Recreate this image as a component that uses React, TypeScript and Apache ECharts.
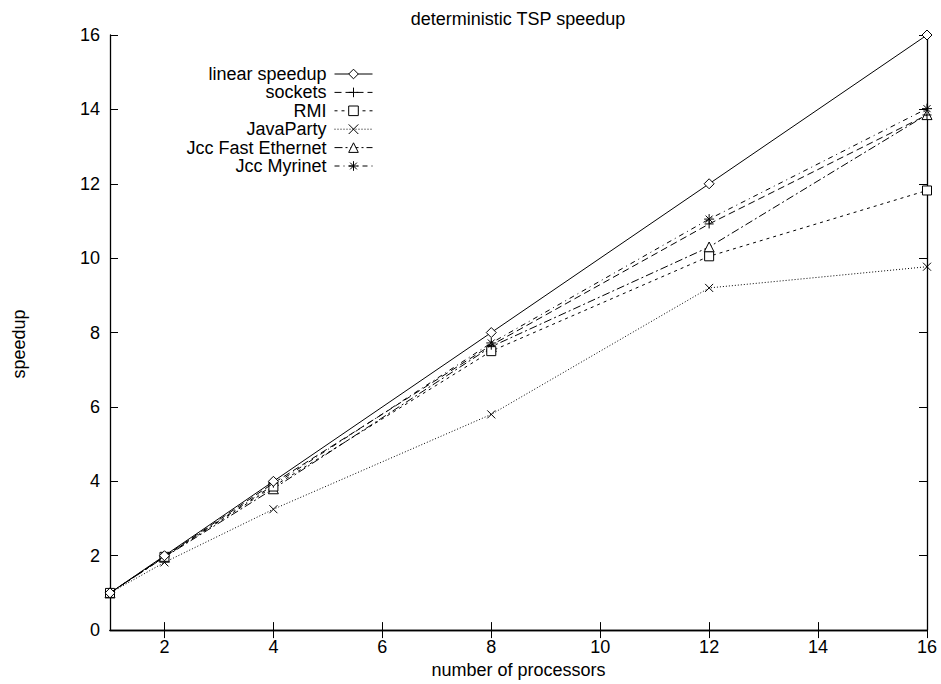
import React, { useEffect, useRef } from "react";
import * as echarts from "echarts";

const procs = [1, 2, 4, 8, 12, 16];
const xTicks = [2, 4, 6, 8, 10, 12, 14, 16];
const linearSpeedup = [1, 2, 4, 8, 12, 16];
const sockets = [1, 1.98, 3.95, 7.66, 10.92, 13.85];
const rmi = [1, 1.97, 3.86, 7.5, 10.05, 11.82];
const javaParty = [1, 1.82, 3.25, 5.8, 9.2, 9.77];
const jccFastEthernet = [1, 1.96, 3.8, 7.62, 10.3, 13.86];
const jccMyrinet = [1, 1.97, 3.9, 7.72, 11.05, 14.02];

const names = ["linear speedup", "sockets", "RMI", "JavaParty", "Jcc Fast Ethernet", "Jcc Myrinet"];
const values = [linearSpeedup, sockets, rmi, javaParty, jccFastEthernet, jccMyrinet];

const PLUS = "path://M0,5L10,5M5,0L5,10";
const CROSS = "path://M0,0L10,10M10,0L0,10";
const STAR = "path://M0,5L10,5M5,0L5,10M1.5,1.5L8.5,8.5M8.5,1.5L1.5,8.5";

const styles = [
  { dash: "solid" as any, symbol: "diamond", size: 10, filled: true },
  { dash: [7, 4], symbol: PLUS, size: 9, filled: false },
  { dash: [3, 4], symbol: "rect", size: 9, filled: true },
  { dash: [1, 2], symbol: CROSS, size: 8, filled: false },
  { dash: [8, 3, 2, 3], symbol: "triangle", size: 10, filled: true },
  { dash: [5, 4, 1, 4], symbol: STAR, size: 10, filled: false },
];

const FONT = "Liberation Sans, Arial, Helvetica, sans-serif";
const FS = 18;

export default function App() {
  const ref = useRef<HTMLDivElement>(null);
  useEffect(() => {
    if (!ref.current) return;
    const chart = echarts.init(ref.current, undefined, { renderer: "svg" });
    const axisLine = { lineStyle: { color: "#000", width: 1.3 } };
    const tick = { inside: true, length: 8, lineStyle: { color: "#000", width: 1 } };
    const series = names.map((name, i) => ({
      name,
      type: "line",
      data: procs.map((p, j) => [p, values[i][j]]),
      symbol: styles[i].symbol,
      symbolSize: styles[i].size,
      showSymbol: true,
      lineStyle: { color: "#000", width: 1, type: styles[i].dash },
      itemStyle: {
        color: styles[i].filled ? "#fff" : "none",
        borderColor: "#000",
        borderWidth: 1,
      },
      emphasis: { disabled: true },
      z: 10 - i,
    }));
    const legendRows = names.map((name, i) => ({
      data: [name],
      orient: "horizontal",
      align: "right",
      right: 941 - 373,
      top: 65 + i * 18.4,
      padding: 0,
      itemWidth: 38,
      itemHeight: 12,
      itemGap: 6,
      selectedMode: false,
      lineStyle: { width: 1, color: "#000" },
      itemStyle: { borderWidth: 1, borderColor: "#000" },
      textStyle: { fontFamily: FONT, fontSize: FS, color: "#000", padding: [0, 3, 0, 0] },
    }));
    chart.setOption({
      animation: false,
      backgroundColor: "#fff",
      title: {
        text: "deterministic TSP speedup",
        left: 518,
        textAlign: "center",
        top: 10,
        padding: 0,
        textStyle: { fontFamily: FONT, fontSize: FS, fontWeight: "normal", color: "#000" },
      },
      legend: legendRows,
      graphic: [
        {
          type: "text",
          x: 19,
          y: 344,
          rotation: Math.PI / 2,
          style: {
            text: "speedup",
            fontFamily: FONT,
            fontSize: FS,
            fill: "#000",
            textAlign: "center",
            textVerticalAlign: "middle",
          },
        },
      ],
      grid: { left: 110, right: 14, top: 35, bottom: 52 },
      xAxis: [
        {
          type: "value",
          min: 1,
          max: 16,
          position: "bottom",
          name: "number of processors",
          nameLocation: "middle",
          nameGap: 27,
          nameTextStyle: { fontFamily: FONT, fontSize: FS, color: "#000" },
          axisLine,
          axisTick: { ...tick, customValues: xTicks },
          axisLabel: { customValues: xTicks, fontFamily: FONT, fontSize: FS, color: "#000", margin: 8 },
          splitLine: { show: false },
        },
        {
          type: "value",
          min: 1,
          max: 16,
          position: "top",
          axisLine,
          axisTick: { ...tick, customValues: xTicks },
          axisLabel: { show: false, customValues: xTicks },
          splitLine: { show: false },
        },
      ],
      yAxis: [
        {
          type: "value",
          min: 0,
          max: 16,
          interval: 2,
          position: "left",
          axisLine,
          axisTick: tick,
          axisLabel: { fontFamily: FONT, fontSize: FS, color: "#000", margin: 10 },
          splitLine: { show: false },
        },
        {
          type: "value",
          min: 0,
          max: 16,
          interval: 2,
          position: "right",
          axisLine,
          axisTick: tick,
          axisLabel: { show: false },
          splitLine: { show: false },
        },
      ],
      series,
    });
    return () => chart.dispose();
  }, []);
  return <div ref={ref} style={{ width: 941, height: 684, position: "absolute", left: 0, top: 0 }} />;
}
